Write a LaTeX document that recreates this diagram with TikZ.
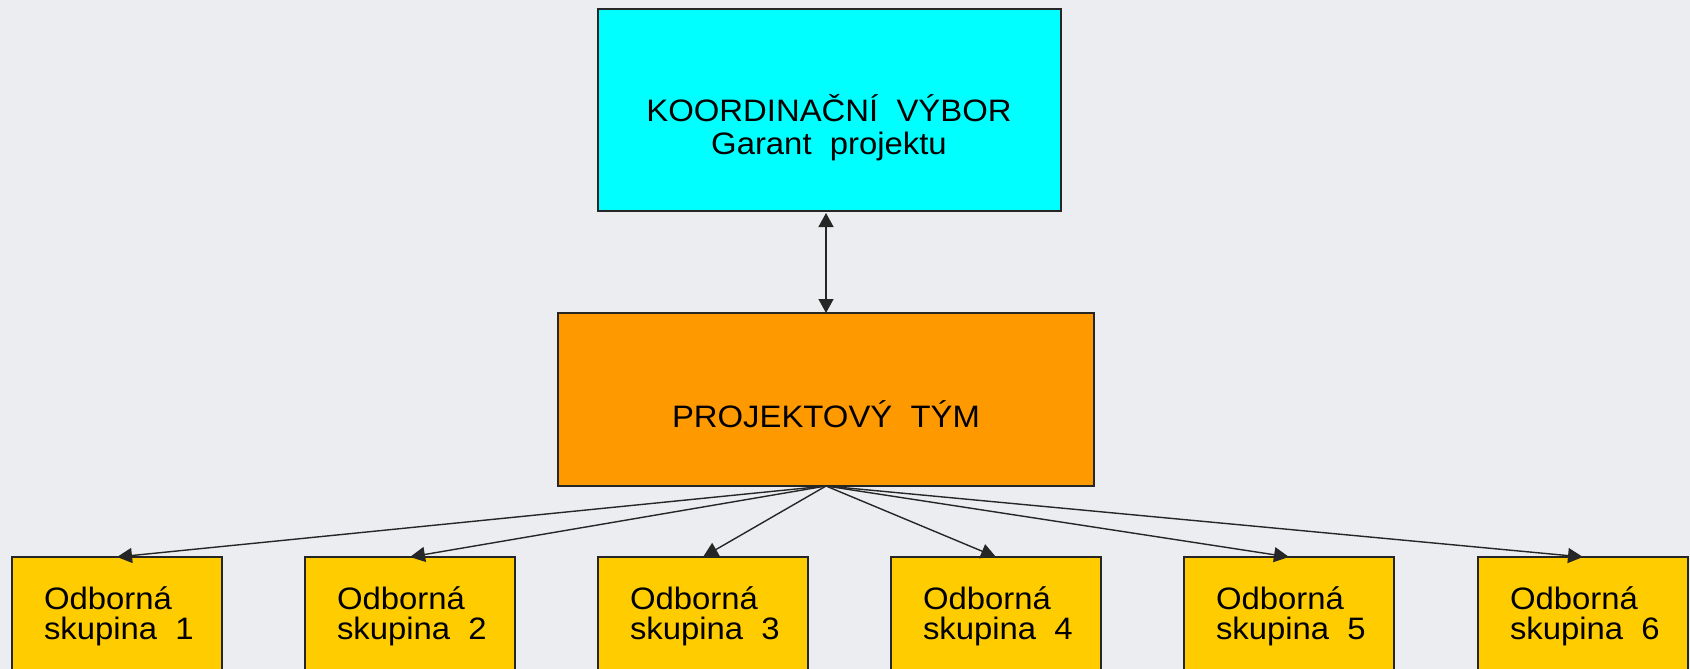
\documentclass[tikz,border=0pt]{standalone}
\usepackage{fontspec}
\setmainfont{Liberation Sans}[FakeStretch=1.06]
\usetikzlibrary{arrows.meta}
\definecolor{bg}{HTML}{ECEDF0}
\definecolor{kvcol}{HTML}{00FFFF}
\definecolor{ptcol}{HTML}{FF9900}
\definecolor{oscol}{HTML}{FFCC00}
\tikzset{
  box/.style={draw=black!85, line width=1.4pt, inner sep=0pt, outer sep=0pt},
  txt/.style={inner sep=0pt, outer sep=0pt, font=\fontsize{31}{33}\selectfont},
  grp/.style={box, fill=oscol, minimum width=210pt, minimum height=143pt},
  conn/.style={draw=black!85, line width=1.4pt, -{Triangle[length=15pt,width=15pt]}},
}
\begin{document}
\begin{tikzpicture}[x=1pt,y=-1pt]
\useasboundingbox[fill=bg] (0,0) rectangle (1690,669);
\node[box, fill=kvcol, minimum width=463pt, minimum height=202pt] (kv) at (829.5,110) {};
\node[txt, align=center, anchor=base] (kvt) at (829,154) {KOORDINAČNÍ~ VÝBOR\\Garant~ projektu};
\node[box, fill=ptcol, minimum width=536pt, minimum height=173pt] (pt) at (826,399.5) {};
\node[txt, anchor=base] (ptt) at (826,427) {PROJEKTOVÝ~ TÝM};
\foreach \i/\x in {1/12,2/305,3/598,4/891,5/1184,6/1478}{
  \node[grp] (os\i) at (\x+105,628.5) {};
  \node[txt, align=left, anchor=north west, font=\fontsize{31}{30}\selectfont] (ost\i) at (\x+32,587) {Odborná\\skupina~ \i};
}
\draw[draw=black!85, line width=1.4pt, {Triangle[length=14pt,width=15pt]}-{Triangle[length=14pt,width=15pt]}] (pt.north) -- ([yshift=-2pt]pt.north |- kv.south);
\foreach \i in {1,...,6}{
  \draw[conn] (pt.south) -- (os\i.north);
}
\end{tikzpicture}
\end{document}
